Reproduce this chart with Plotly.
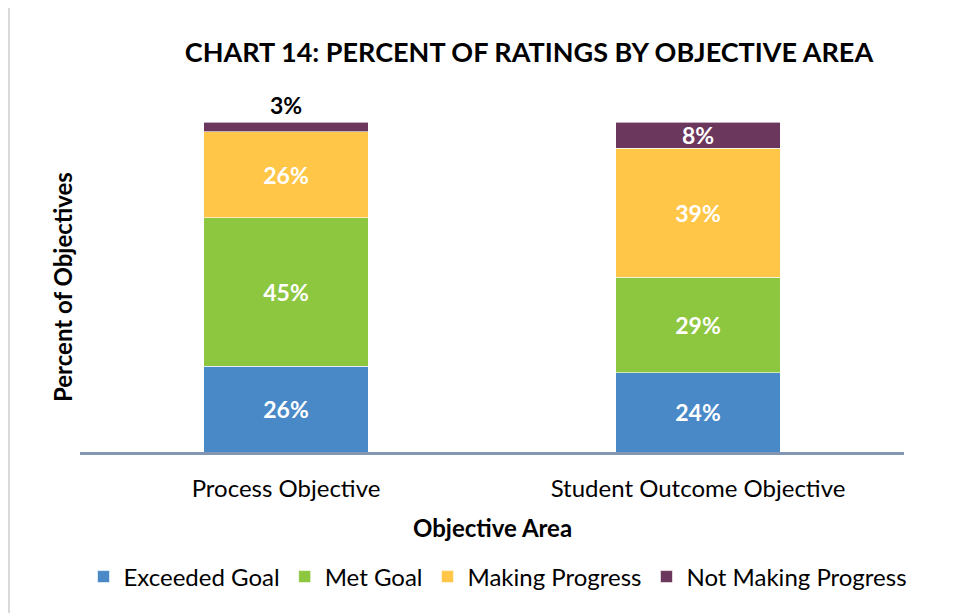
import plotly.graph_objects as go

categories = ["Process Objective", "Student Outcome Objective"]
series_names = ["Exceeded Goal", "Met Goal", "Making Progress", "Not Making Progress"]
exceeded = [26, 24]
met = [45, 29]
making = [26, 39]
not_making = [3, 8]
colors = ["#4A89C8", "#8DC63F", "#FFC647", "#6C375C"]

FONT = "Lato"
values = [exceeded, met, making, not_making]

OFF = 8  # page body margin
FW, FH = 962 - OFF, 613 - OFF

fig = go.Figure()
for i, (name, vals) in enumerate(zip(series_names, values)):
    tpos = ["outside", "inside"] if i == 3 else "inside"
    fig.add_trace(go.Bar(
        x=categories, y=vals, name=name,
        marker=dict(color=colors[i], line=dict(color="rgba(255,255,255,0.6)", width=1)),
        text=[f"{v}%" for v in vals],
        texttemplate="%{text}",
        textposition=tpos,
        insidetextanchor="middle",
        insidetextfont=dict(family=FONT, size=23, color="white", weight="bold"),
        outsidetextfont=dict(family=FONT, size=23, color="black", weight="bold"),
        constraintext="none",
        cliponaxis=False,
        hoverinfo="skip",
    ))

# target coordinates in the screenshot, converted to figure coordinates
L, R, T, B = 80 - OFF, 904 - OFF, 122 - OFF, 452 - OFF
W, H = R - L, B - T

def px(x):
    return (x - OFF - L) / W

def py(y):
    return (B - (y - OFF)) / H

fig.update_layout(
    barmode="stack",
    bargap=0.6,
    width=FW, height=FH,
    margin=dict(l=L, r=FW - R, t=T, b=FH - B, pad=0),
    paper_bgcolor="white", plot_bgcolor="white",
    font=dict(family=FONT, size=24, color="black"),
    showlegend=True,
    legend=dict(orientation="h", x=px(498), xanchor="center", y=py(577), yanchor="middle",
                font=dict(family=FONT, size=24), traceorder="normal", itemwidth=30,
                itemclick=False),
    xaxis=dict(showline=True, linecolor="#8497B0", linewidth=3, ticks="",
               tickfont=dict(family=FONT, size=24, color="black"), ticklabelstandoff=13),
    yaxis=dict(range=[0, 100], visible=False, showgrid=False),
    title=dict(text="<b>CHART 14: PERCENT OF RATINGS BY OBJECTIVE AREA</b>",
               x=(529 - OFF) / FW, xanchor="center", y=1 - (53 - OFF) / FH, yanchor="middle",
               font=dict(family=FONT, size=27, color="black")),
    annotations=[
        dict(text="<b>Objective Area</b>", x=px(492), y=py(527), xref="paper", yref="paper",
             showarrow=False, xanchor="center", yanchor="middle",
             font=dict(family=FONT, size=24, color="black")),
        dict(text="<b>Percent of Objectives</b>", x=px(62), y=py(287), xref="paper", yref="paper",
             showarrow=False, xanchor="center", yanchor="middle", textangle=-90,
             font=dict(family=FONT, size=24, color="black")),
    ],
    shapes=[
        dict(type="line", xref="paper", yref="paper", x0=px(9), x1=px(975), y0=py(5), y1=py(5),
             line=dict(color="#D9D9D9", width=2)),
        dict(type="line", xref="paper", yref="paper", x0=px(9), x1=px(9), y0=py(5), y1=py(625),
             line=dict(color="#D9D9D9", width=2)),
    ],
)

fig.write_html("out.html")
